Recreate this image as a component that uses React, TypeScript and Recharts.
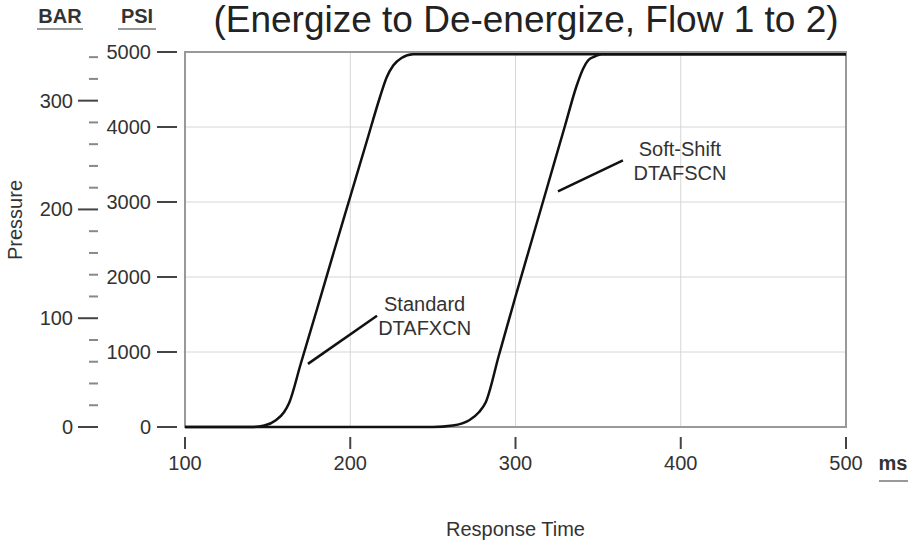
import {
  LineChart,
  Line,
  XAxis,
  YAxis,
  CartesianGrid,
  ReferenceArea,
  ReferenceLine,
  ReferenceDot
} from 'recharts';

// response time (ms) and pressure (psi)
const standardTime = [100, 140, 148, 155, 160, 163, 170, 180, 190, 200, 210, 218, 222, 226, 231, 238, 500];
const standardPsi = [0, 0, 20, 90, 200, 320, 840, 1580, 2330, 3070, 3810, 4400, 4660, 4820, 4920, 4970, 4970];
const softTime = [100, 250, 262, 272, 278, 282, 290, 300, 310, 320, 330, 337, 341, 344, 348, 352, 500];
const softPsi = [0, 0, 20, 90, 200, 330, 960, 1740, 2500, 3260, 4020, 4550, 4780, 4890, 4940, 4970, 4970];

const timeTicks = [100, 200, 300, 400, 500];
const psiTicks = [0, 1000, 2000, 3000, 4000, 5000];
const barTicks = [0, 20, 40, 60, 80, 100, 120, 140, 160, 180, 200, 220, 240, 260, 280, 300, 320, 340];
const barLabels = [0, 100, 200, 300];

const PSI_PER_BAR = 14.5038;
const PSI_MAX = 5000;

const title = '(Energize to De-energize, Flow 1 to 2)';
const xTitle = 'Response Time';
const yTitle = 'Pressure';

// callouts: text anchor and pointer segment, in data units
const standardNote = { lines: ['Standard', 'DTAFXCN'], t: 245, psi: 1484, from: { x: 174.4, y: 842 }, to: { x: 216.2, y: 1484 } };
const softNote = { lines: ['Soft-Shift', 'DTAFSCN'], t: 399.5, psi: 3550, from: { x: 325.7, y: 3142 }, to: { x: 365, y: 3556 } };

const standard = standardTime.map((t, i) => ({ t, psi: standardPsi[i] }));
const soft = softTime.map((t, i) => ({ t, psi: softPsi[i] }));

const FONT = '"Liberation Sans", Arial, sans-serif';
const INK = '#333';
// recharts stacks left axes by id; "a" ends up next to the plot
const PSI = 'a';
const BAR = 'b';

const PsiTick = (props: any) => {
  const { x, y, payload } = props;
  return (
    <g>
      <line x1={x - 28} x2={x - 8} y1={y} y2={y} stroke="#444" strokeWidth={2} />
      <text x={x - 34} y={y} dy="0.35em" textAnchor="end" fontSize={20} fontFamily={FONT} fill={INK}>
        {payload.value}
      </text>
    </g>
  );
};

const BarTick = (props: any) => {
  const { x, y, payload } = props;
  const major = barLabels.includes(payload.value);
  return (
    <g>
      <line x1={x - (major ? 27 : 16)} x2={x - 7} y1={y} y2={y} stroke={major ? '#444' : '#888'} strokeWidth={2} />
      {major && (
        <text x={x - 32} y={y} dy="0.35em" textAnchor="end" fontSize={20} fontFamily={FONT} fill={INK}>
          {payload.value}
        </text>
      )}
    </g>
  );
};

const TimeTick = (props: any) => {
  const { x, y, payload } = props;
  return (
    <g>
      <line x1={x} x2={x} y1={y + 10} y2={y + 22} stroke="#444" strokeWidth={2} />
      <text x={x} y={y + 43} textAnchor="middle" fontSize={20} fontFamily={FONT} fill={INK}>
        {payload.value}
      </text>
    </g>
  );
};

const noteShape = (lines: string[]) => (p: any) => (
  <text x={p.cx} y={p.cy} textAnchor="middle" fontSize={20} fontFamily={FONT} fill={INK}>
    <tspan x={p.cx} dy="-0.25em">{lines[0]}</tspan>
    <tspan x={p.cx} dy="1.2em">{lines[1]}</tspan>
  </text>
);

const App = () => {
  return (
    <div style={{ position: 'absolute', left: 0, top: 0, width: 910, height: 544, background: '#fff' }}>
      <LineChart width={910} height={544} margin={{ top: 52, right: 64, bottom: 0, left: 30 }}>
        <CartesianGrid stroke="#d6d6d6" strokeWidth={1} yAxisId={PSI} />
        <XAxis
          dataKey="t"
          type="number"
          domain={[100, 500]}
          ticks={timeTicks}
          height={117}
          tickSize={0}
          tickMargin={0}
          axisLine={false}
          tickLine={false}
          tick={<TimeTick />}
          label={{ value: xTitle, position: 'insideBottom', offset: 8, fontSize: 20, fontFamily: FONT, fill: INK }}
        />
        <YAxis
          yAxisId={PSI}
          type="number"
          domain={[0, PSI_MAX]}
          ticks={psiTicks}
          width={80}
          interval={0}
          tickSize={0}
          tickMargin={0}
          axisLine={false}
          tickLine={false}
          tick={<PsiTick />}
        />
        <YAxis
          yAxisId={BAR}
          type="number"
          domain={[0, PSI_MAX / PSI_PER_BAR]}
          allowDataOverflow
          ticks={barTicks}
          width={75}
          interval={0}
          tickSize={0}
          tickMargin={0}
          axisLine={false}
          tickLine={false}
          tick={<BarTick />}
        />
        <ReferenceArea yAxisId={PSI} x1={100} x2={500} y1={0} y2={PSI_MAX} fill="none" stroke="#999" strokeWidth={2} />
        <Line yAxisId={PSI} data={standard} dataKey="psi" type="monotone" stroke="#111" strokeWidth={2.5} dot={false} isAnimationActive={false} />
        <Line yAxisId={PSI} data={soft} dataKey="psi" type="monotone" stroke="#111" strokeWidth={2.5} dot={false} isAnimationActive={false} />
        <ReferenceLine yAxisId={PSI} segment={[standardNote.from, standardNote.to]} stroke="#111" strokeWidth={2.5} />
        <ReferenceLine yAxisId={PSI} segment={[softNote.from, softNote.to]} stroke="#111" strokeWidth={2.5} />
        <ReferenceDot yAxisId={PSI} x={standardNote.t} y={standardNote.psi} r={0} shape={noteShape(standardNote.lines)} />
        <ReferenceDot yAxisId={PSI} x={softNote.t} y={softNote.psi} r={0} shape={noteShape(softNote.lines)} />
      </LineChart>
      <svg width={910} height={544} style={{ position: 'absolute', left: 0, top: 0, pointerEvents: 'none' }}>
        <text x={526} y={32} textAnchor="middle" fontSize={37} fontFamily={FONT} fill="#222">{title}</text>
        <text x={60} y={23} textAnchor="middle" fontSize={20} fontWeight="bold" fontFamily={FONT} fill={INK}>BAR</text>
        <line x1={37} x2={83} y1={29} y2={29} stroke="#999" strokeWidth={2} />
        <text x={137} y={23} textAnchor="middle" fontSize={20} fontWeight="bold" fontFamily={FONT} fill={INK}>PSI</text>
        <line x1={118} x2={156} y1={29} y2={29} stroke="#999" strokeWidth={2} />
        <text x={893} y={470} textAnchor="middle" fontSize={20} fontWeight="bold" fontFamily={FONT} fill={INK}>ms</text>
        <line x1={879} x2={908} y1={481} y2={481} stroke="#999" strokeWidth={2} />
        <text x={0} y={0} transform="translate(22 220) rotate(-90)" textAnchor="middle" fontSize={20} fontFamily={FONT} fill={INK}>{yTitle}</text>
      </svg>
    </div>
  );
};

export default App;
